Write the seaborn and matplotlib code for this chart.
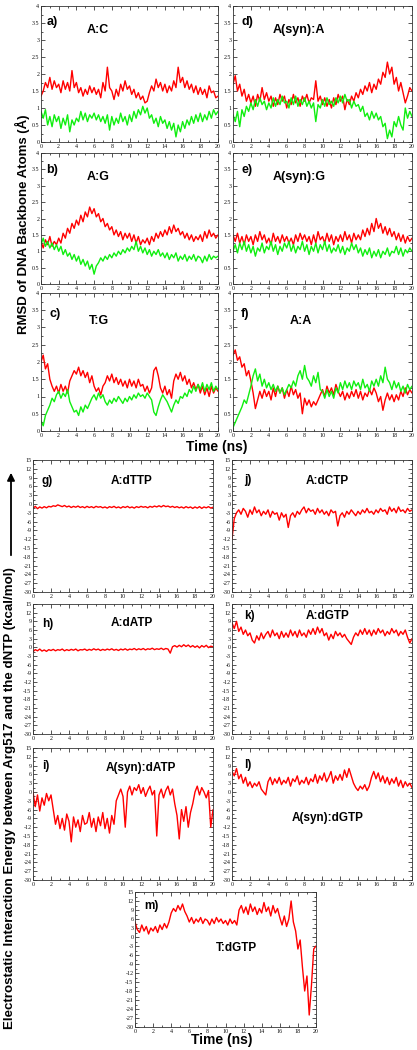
import numpy as np
import pandas as pd
import seaborn as sns
import matplotlib
matplotlib.use('Agg')
from matplotlib import pyplot as plt
from matplotlib.ticker import MultipleLocator, FormatStrFormatter

# time axis of every trace (ns), one sample every 0.25 ns
time = np.arange(81) * 0.25

# ---- RMSD of DNA backbone atoms (A), red / green traces ----
ac_red = [1.35, 1.5, 1.75, 1.6, 1.9, 1.55, 1.8, 1.6,
          1.7, 1.45, 1.8, 1.55, 1.75, 1.5, 2.1, 1.6,
          1.75, 1.45, 1.6, 1.35, 1.55, 1.4, 1.65, 1.45,
          1.6, 1.4, 1.55, 1.3, 1.75, 1.5, 2.2, 1.6,
          1.5, 1.25, 1.55, 1.35, 1.7, 1.5, 1.8, 1.55,
          1.65, 1.4, 1.55, 1.3, 1.45, 1.25, 1.35, 1.15,
          1.2, 1.45, 1.65, 1.5, 1.85, 1.6, 1.75, 1.5,
          1.7, 1.45, 1.65, 1.5, 1.8, 1.6, 2.2, 1.75,
          1.9, 1.6, 1.8, 1.55, 1.7, 1.45, 1.65, 1.4,
          1.6, 1.4, 1.55, 1.3, 1.65, 1.45, 1.5, 1.3, 1.35]
ac_green = [0.9, 0.7, 0.95, 0.5, 0.75, 0.45, 0.8, 0.6,
            0.75, 0.4, 0.7, 0.5, 0.8, 0.3, 0.65, 0.5,
            0.7, 0.6, 0.9, 0.65, 0.85, 0.6, 0.8, 0.7,
            0.85, 0.65, 0.8, 0.6, 0.75, 0.55, 0.8, 0.35,
            0.75, 0.5, 0.7, 0.55, 0.85, 0.6, 0.75, 0.5,
            0.8, 0.6, 0.9, 0.7, 0.95, 0.8, 1.05, 0.85,
            1.0, 0.7, 0.8, 0.55, 0.7, 0.45, 0.75, 0.55,
            0.65, 0.4, 0.6, 0.35, 0.55, 0.15, 0.5, 0.3,
            0.6, 0.4, 0.65, 0.5, 0.75, 0.55, 0.8, 0.6,
            0.85, 0.6, 0.8, 0.65, 0.9, 0.7, 0.95, 0.8, 0.9]

ag_red = [1.3, 1.1, 1.35, 1.2, 1.45, 1.15, 1.3, 1.2,
          1.4, 1.25, 1.55, 1.4, 1.7, 1.55, 1.85, 1.7,
          1.95, 1.8, 2.1, 1.9, 2.2, 2.05, 2.35, 2.15,
          2.3, 2.05, 2.15, 1.9, 2.0, 1.75, 1.85, 1.65,
          1.75, 1.5, 1.65, 1.45, 1.6, 1.35, 1.55, 1.4,
          1.55, 1.3, 1.5, 1.25, 1.45, 1.2, 1.35, 1.25,
          1.4, 1.2, 1.45, 1.3, 1.55, 1.4, 1.6, 1.45,
          1.65, 1.5, 1.75, 1.55, 1.8, 1.6, 1.7, 1.5,
          1.6, 1.4, 1.55, 1.35, 1.5, 1.3, 1.45, 1.35,
          1.5, 1.3, 1.6, 1.4, 1.65, 1.45, 1.55, 1.4, 1.5]
ag_green = [1.2, 1.4, 1.15, 1.3, 1.1, 1.25, 1.05, 1.2,
            1.0, 1.15, 0.9, 1.05, 0.85, 0.95, 0.75, 0.9,
            0.7, 0.85, 0.6, 0.75, 0.55, 0.7, 0.45, 0.6,
            0.3, 0.55, 0.65, 0.8, 0.7, 0.85, 0.75, 0.9,
            0.8, 0.95, 0.85, 1.0, 0.9, 1.05, 0.95, 1.1,
            1.0, 1.15, 1.05, 1.3, 1.0, 1.15, 0.95, 1.1,
            0.9, 1.05, 0.85, 1.0, 0.9, 1.05, 0.85, 0.95,
            0.8, 0.95, 0.75, 0.9, 0.8, 0.95, 0.7, 0.85,
            0.75, 0.9, 0.7, 0.85, 0.75, 0.9, 0.7, 0.85,
            0.8, 0.65, 0.85, 0.7, 0.9, 0.75, 0.85, 0.8, 0.85]

tg_red = [2.0, 2.2, 1.8, 1.95, 1.5, 1.3, 1.15, 1.3,
          1.1, 1.35, 1.15, 1.3, 1.1, 1.45, 1.6, 1.75,
          1.65, 1.85, 1.6, 1.75, 1.55, 1.7, 1.4, 1.6,
          1.3, 1.15, 1.25, 1.05, 1.3, 1.4, 1.6, 1.45,
          1.65, 1.4, 1.55, 1.35, 1.5, 1.3, 1.45, 1.25,
          1.5, 1.3, 1.45, 1.25, 1.5, 1.3, 1.35, 1.15,
          1.3, 1.1, 1.25, 1.75, 1.85, 1.6, 1.25, 1.1,
          1.3, 1.05, 1.2, 0.95, 1.45, 1.65, 1.5, 1.7,
          1.45, 1.6, 1.35, 1.5, 1.25, 1.4, 1.2, 1.35,
          1.1, 1.3, 1.05, 1.25, 1.0, 1.3, 1.1, 1.25, 1.15]
tg_green = [0.3, 0.15, 0.45, 0.6, 0.75, 0.95, 0.85, 1.05,
            1.15, 0.95, 1.1, 1.0, 1.2, 0.85, 0.7, 0.55,
            0.6, 0.45, 0.7, 0.55, 0.75, 0.65, 0.8, 0.95,
            1.05, 0.9, 1.1, 0.95, 1.05, 0.85, 0.75, 0.9,
            0.8, 0.95, 0.85, 1.0, 0.9, 0.8, 0.95, 0.85,
            1.0, 0.9, 1.05, 0.95, 1.1, 1.0, 1.05, 0.95,
            1.1, 1.0, 0.9, 0.55, 0.45, 0.7, 0.9, 1.05,
            0.95, 0.85, 0.7, 0.55, 0.75, 0.9, 0.8, 1.0,
            0.95, 1.1, 1.0, 1.2, 1.1, 1.3, 1.15, 1.35,
            1.2, 1.4, 1.15, 1.35, 1.2, 1.4, 1.15, 1.3, 1.2]

syna_red = [1.7, 1.95, 1.5, 1.7, 1.35, 1.55, 1.2, 1.4,
            1.15, 1.35, 1.05, 1.4, 1.2, 1.6, 1.25, 1.45,
            1.2, 1.35, 1.05, 1.3, 1.1, 1.4, 1.2, 1.35,
            1.0, 1.25, 1.1, 1.4, 1.15, 1.3, 1.05, 1.35,
            1.2, 1.4, 1.15, 1.3, 1.25, 1.8, 1.2, 1.35,
            1.1, 1.3, 1.05, 1.25, 1.0, 1.3, 1.1, 1.4,
            1.2, 1.35, 0.95, 1.25, 1.1, 1.35, 1.2, 1.45,
            1.3, 1.55, 1.4, 1.65, 1.5, 1.75, 1.45, 1.7,
            1.55, 1.85, 1.7, 2.05, 1.9, 2.35, 2.0, 2.2,
            1.7, 1.9, 1.5, 1.75, 1.45, 1.15, 1.35, 1.6, 1.5]
syna_green = [0.8, 0.6, 0.9, 0.45, 0.95, 0.75, 1.05, 0.9,
              1.15, 0.95, 1.25, 1.05, 1.3, 1.1, 1.2, 0.95,
              1.15, 1.0, 1.3, 1.05, 1.25, 1.1, 1.35, 1.15,
              1.2, 1.0, 1.3, 1.1, 1.35, 1.05, 1.25, 1.1,
              1.3, 1.05, 1.2, 1.0, 1.15, 0.6, 1.1, 1.0,
              1.25, 1.05, 1.3, 1.1, 1.2, 1.05, 1.3, 1.15,
              1.35, 1.15, 1.4, 1.2, 1.25, 1.0, 1.2, 1.05,
              1.1, 0.9, 1.05, 0.75, 0.85, 0.65, 0.9, 0.7,
              0.85, 0.65, 0.75, 0.45, 0.55, 0.1, 0.35, 0.15,
              0.6, 0.45, 0.75, 0.5, 0.35, 1.0, 0.7, 0.9, 0.75]

syng_red = [1.5, 1.3, 1.55, 1.25, 1.45, 1.2, 1.5, 1.3,
            1.45, 1.2, 1.5, 1.3, 1.6, 1.35, 1.5, 1.25,
            1.4, 1.2, 1.55, 1.3, 1.45, 1.25, 1.5, 1.3,
            1.45, 1.25, 1.4, 1.2, 1.5, 1.3, 1.55, 1.35,
            1.5, 1.3, 1.45, 1.2, 1.5, 1.25, 1.6, 1.35,
            1.45, 1.25, 1.55, 1.3, 1.5, 1.2, 1.45, 1.3,
            1.5, 1.3, 1.6, 1.35, 1.5, 1.25, 1.55, 1.35,
            1.5, 1.35, 1.65, 1.45, 1.7, 1.5, 1.85, 1.6,
            2.0, 1.7, 1.85, 1.55, 1.75, 1.5, 1.7, 1.45,
            1.6, 1.35, 1.55, 1.3, 1.5, 1.25, 1.45, 1.3, 1.4]
syng_green = [1.0, 1.2, 0.95, 1.25, 1.05, 1.3, 1.0, 1.2,
              0.95, 1.15, 0.85, 1.1, 1.0, 1.25, 0.95, 1.15,
              1.05, 1.3, 1.0, 1.2, 0.9, 1.15, 1.0, 1.25,
              1.1, 1.3, 1.0, 1.2, 0.95, 1.15, 1.05, 1.3,
              1.0, 1.2, 0.9, 1.15, 1.0, 1.25, 0.95, 1.2,
              1.05, 1.3, 1.0, 1.2, 0.95, 1.1, 1.0, 1.2,
              0.95, 1.15, 0.9, 1.1, 1.0, 1.25, 1.05, 1.2,
              0.95, 1.1, 0.85, 1.05, 0.9, 1.1, 0.8, 1.0,
              0.85, 1.05, 0.8, 1.0, 0.9, 1.1, 0.85, 1.0,
              0.95, 1.15, 0.9, 1.1, 0.85, 1.05, 0.95, 1.1, 1.0]

aa_red = [2.2, 2.35, 2.05, 2.15, 1.85, 1.95, 1.6, 1.75,
          1.45, 1.1, 0.65, 0.9, 1.15, 0.95, 1.2, 1.0,
          1.15, 0.9, 1.25, 1.0, 1.3, 1.1, 1.25, 0.95,
          1.2, 1.0, 1.3, 1.05, 1.2, 0.95, 1.1, 0.5,
          0.95, 0.75, 0.9, 0.7, 0.85, 0.75, 0.9, 1.05,
          1.2, 1.0, 1.3, 1.1, 1.25, 1.05, 1.35, 1.15,
          1.0, 1.15, 0.9, 1.1, 0.95, 1.15, 1.0, 1.2,
          0.95, 1.15, 0.9, 1.1, 1.0, 1.2, 1.05, 1.25,
          1.1, 0.85, 1.0, 0.6, 0.9, 1.1, 0.9, 1.05,
          0.85, 1.05, 0.9, 1.15, 1.0, 1.25, 1.05, 1.2, 1.1]
aa_green = [0.1, 0.25, 0.4, 0.55, 0.7, 0.9, 0.8, 1.05,
            1.3, 1.6, 1.8, 1.45, 1.65, 1.3, 1.5, 1.25,
            1.4, 1.2, 1.35, 1.15, 1.3, 1.1, 1.25, 1.05,
            1.2, 1.35, 1.25, 1.45, 1.3, 1.6, 1.75, 1.5,
            1.9, 1.55, 1.45, 1.3, 1.6, 1.4, 1.7, 1.2,
            1.15, 0.95, 1.2, 1.0, 1.15, 0.95, 1.25, 1.1,
            1.4, 1.2, 1.45, 1.25, 1.4, 1.2, 1.45, 1.3,
            1.4, 1.2, 1.5, 1.25, 1.35, 1.15, 1.45, 1.3,
            1.5, 1.3, 1.6, 1.4, 1.85, 1.5, 1.4, 1.2,
            1.45, 1.25, 1.4, 1.15, 1.3, 1.1, 1.35, 1.2, 1.3]

# ---- Arg517 - dNTP electrostatic interaction energy (kcal/mol) ----
dttp = [-1.5, -0.8, -1.6, -1.0, -1.4, -0.9, -1.3, -0.8,
        -1.0, -0.6, -0.8, -0.3, -0.6, -0.9, -0.5, -1.0,
        -0.7, -1.2, -0.8, -1.1, -0.7, -1.2, -0.9, -1.3,
        -0.8, -1.2, -0.9, -1.3, -0.8, -1.1, -0.9, -1.3,
        -1.0, -1.4, -0.9, -1.2, -0.8, -1.3, -1.0, -1.4,
        -0.9, -1.2, -0.8, -1.3, -1.0, -1.4, -0.9, -1.2,
        -0.8, -1.1, -0.9, -1.3, -0.8, -1.1, -0.7, -1.0,
        -0.6, -1.0, -0.5, -0.9, -0.7, -1.1, -0.8, -1.2,
        -0.9, -1.3, -1.0, -1.4, -0.9, -1.3, -1.0, -1.5,
        -1.0, -1.4, -0.9, -1.5, -1.0, -1.3, -0.9, -1.4, -1.1]
datp = [-1.5, -0.8, -1.2, -0.6, -1.3, -0.9, -1.4, -0.8,
        -1.1, -0.7, -1.2, -0.8, -1.0, -0.6, -1.2, -0.8,
        -1.1, -0.7, -1.0, -0.6, -1.2, -0.8, -0.9, -0.6,
        -1.1, -0.7, -1.0, -0.5, -0.9, -0.6, -1.1, -0.7,
        -1.0, -0.6, -0.9, -0.5, -1.0, -0.7, -1.1, -0.6,
        -0.9, -0.5, -1.0, -0.6, -0.8, -0.4, -0.9, -0.5,
        -0.8, -0.4, -0.9, -0.5, -0.7, -0.3, -0.8, -0.5,
        -0.7, -0.3, -0.8, -0.4, -0.6, -2.0, 0.2, 0.6,
        0.1, 0.7, 0.2, 0.9, 0.3, 0.8, 0.1, 0.6,
        0.0, 0.5, -0.2, 0.6, 0.1, 0.7, -0.1, 0.4, 0.2]
syn_datp = [0.0, -5.0, -1.0, -6.5, -2.0, -4.5, -0.5, -3.0,
            -1.0, -6.0, -11.0, -8.0, -12.5, -9.0, -13.0, -7.5,
            -10.0, -17.0, -8.5, -12.0, -9.5, -13.5, -8.0, -11.0,
            -10.5, -7.0, -12.0, -9.0, -13.5, -8.5, -11.5, -7.0,
            -12.5, -9.0, -14.0, -8.0, -11.0, -3.0, -1.0, 1.0,
            -1.5, -12.0, 0.0, 2.0, -1.0, 1.5, 0.5, 2.5,
            -0.5, 1.5, -1.5, 0.5, 2.0, -1.0, 0.5, -15.0,
            -1.0, 1.0, -2.0, 0.5, 2.0, -1.0, 1.0, -4.0,
            -8.0, -16.0, -6.0, -10.0, -5.0, -12.0, -7.0, -4.0,
            0.0, 2.0, -1.0, 1.5, 0.0, -2.0, 0.5, -12.0, -6.0]
dctp = [-12.0, -5.0, -3.0, -2.0, -3.5, -1.5, -2.5, -4.5,
        -2.0, -3.5, -1.0, -3.0, -2.0, -4.0, -2.5, -3.5,
        -2.0, -4.5, -2.5, -3.5, -3.0, -5.5, -3.0, -4.5,
        -3.5, -8.0, -4.0, -3.0, -4.5, -2.5, -3.5, -2.0,
        -1.0, -3.0, -1.5, -2.5, -2.0, -3.5, -1.5, -3.0,
        -2.0, -3.5, -2.5, -4.0, -2.0, -3.0, -2.5, -7.5,
        -4.0, -3.0, -4.5, -2.5, -3.5, -2.0, -3.0, -4.0,
        -2.5, -3.5, -2.0, -3.0, -1.5, -3.0, -2.5, -3.5,
        -2.0, -3.0, -1.5, -2.5, -2.0, -3.5, -1.0, -2.5,
        -1.5, -3.0, -1.0, -2.5, -2.0, -3.0, -1.5, -2.5, -2.0]
dgtp = [8.5, 6.5, 9.0, 5.5, 7.0, 4.5, 6.0, 4.0,
        5.0, 2.5, 1.5, 4.0, 2.5, 5.0, 3.0, 4.5,
        5.5, 3.5, 6.0, 4.0, 5.0, 3.0, 5.5, 3.5,
        5.0, 3.5, 6.0, 4.0, 5.5, 3.5, 6.0, 4.0,
        5.0, 3.5, 6.0, 4.5, 6.5, 4.5, 7.0, 5.0,
        6.5, 4.0, 5.0, 2.5, 4.5, 3.0, 5.5, 4.0,
        5.0, 3.5, 4.5, 3.0, 2.0, 1.0, 3.5, 5.0,
        4.0, 6.0, 4.5, 6.5, 4.5, 6.0, 4.0, 6.0,
        4.5, 6.5, 5.0, 6.0, 4.0, 5.5, 4.5, 6.5,
        5.0, 6.0, 4.0, 5.5, 4.5, 6.0, 3.5, 1.5, 3.0]
syn_dgtp = [7.0, 5.5, 8.0, 4.5, 6.0, 3.0, 5.0, 2.0,
            3.5, 1.5, 3.0, 2.0, 3.5, 1.0, 0.0, -1.0,
            3.5, 5.0, 2.5, 4.5, 3.0, 5.0, 2.5, 4.0,
            3.0, 5.0, 2.0, 4.5, 3.5, 5.5, 2.5, 4.0,
            3.0, 5.0, 2.5, 4.5, 3.5, 6.0, 3.0, 5.5,
            4.0, 6.5, 3.5, 5.0, 7.0, 3.0, 5.5, 4.0,
            6.0, 4.0, 7.5, 5.0, 8.0, 5.5, 3.0, 1.5,
            0.5, 2.0, 1.0, 2.5, 0.5, 2.0, 5.0, 7.0,
            4.5, 6.5, 3.5, 5.5, 3.0, 5.0, 2.5, 4.5,
            3.0, 5.0, 2.0, 4.0, 1.5, 3.5, 2.0, 3.0, 1.5]
t_dgtp = [5.0, 2.5, 1.5, 4.0, 2.0, 3.5, 1.0, 3.0,
          2.0, 3.5, 1.5, 4.0, 2.5, 4.5, 3.0, 5.0,
          8.0, 9.5, 8.5, 10.5, 9.0, 11.0, 8.5, 7.0,
          5.0, 6.5, 4.5, 6.0, 5.0, 6.5, 4.5, 6.0,
          5.5, 4.0, 6.0, 4.5, 6.5, 5.0, 6.0, 4.5,
          5.5, 4.0, 6.0, 4.5, 5.5, 4.0, 9.0, 10.5,
          8.0, 10.0, 7.5, 11.0, 8.5, 10.0, 7.5, 9.5,
          8.0, 11.5, 8.5, 10.0, 7.0, 10.5, 8.0, 9.5,
          6.5, 4.0, 7.0, 3.5, 6.0, 12.0, 5.0, 2.0,
          -4.0, -1.0, -10.0, -18.0, -13.0, -26.0, -16.0, -4.0, -3.0]

RED = '#ff0000'
GREEN = '#10ee10'

sns.set_style('ticks')
plt.rcParams['font.family'] = ['Liberation Sans', 'DejaVu Sans']
plt.rcParams['text.color'] = 'black'

W, H = 417, 1050
fig = plt.figure(figsize=(W / 100, H / 100), dpi=100)


def panel(x0, y0, x1, y1):
    return fig.add_axes([x0 / W, 1 - y1 / H, (x1 - x0) / W, (y1 - y0) / H])


def dress(ax, ylim, ymaj, ymin, yfmt):
    ax.set_xlim(0, 20)
    ax.set_ylim(*ylim)
    ax.xaxis.set_major_locator(MultipleLocator(2))
    ax.xaxis.set_minor_locator(MultipleLocator(1))
    ax.yaxis.set_major_locator(MultipleLocator(ymaj))
    ax.yaxis.set_minor_locator(MultipleLocator(ymin))
    ax.yaxis.set_major_formatter(FormatStrFormatter(yfmt))
    ax.tick_params(which='both', direction='in', top=True, right=True,
                   labelsize=4.3, width=0.5, pad=1.2, colors='#111111',
                   labelfontfamily='Liberation Serif')
    ax.tick_params(which='major', length=3)
    ax.tick_params(which='minor', length=1.6)
    for s in ax.spines.values():
        s.set_linewidth(0.6)
        s.set_color('#333333')
    ax.set_xlabel('')
    ax.set_ylabel('')


def label(ax, tag, title, tpos, tgpos, size=9):
    ax.text(*tgpos, tag, transform=ax.transAxes, fontsize=size,
            weight='bold', ha='left', va='center')
    ax.text(*tpos, title, transform=ax.transAxes, fontsize=size,
            weight='bold', ha='center', va='center')


# ---- top block: RMSD ----
rmsd = [
    ((41, 6, 218, 142), 'a)', 'A:C', ac_red, ac_green, (0.32, 0.82), (0.03, 0.88)),
    ((41, 153, 218, 284), 'b)', 'A:G', ag_red, ag_green, (0.32, 0.82), (0.03, 0.87)),
    ((41, 293, 218, 431), 'c)', 'T:G', tg_red, tg_green, (0.33, 0.80), (0.05, 0.85)),
    ((233, 6, 412, 142), 'd)', 'A(syn):A', syna_red, syna_green, (0.37, 0.82), (0.045, 0.88)),
    ((233, 153, 412, 284), 'e)', 'A(syn):G', syng_red, syng_green, (0.37, 0.82), (0.045, 0.87)),
    ((233, 293, 412, 431), 'f)', 'A:A', aa_red, aa_green, (0.38, 0.80), (0.045, 0.85)),
]
for box, tag, title, red, green, tpos, tgpos in rmsd:
    ax = panel(*box)
    df = pd.DataFrame({'time': time, 'red': red, 'green': green})
    sns.lineplot(data=df, x='time', y='red', color=RED, lw=1.0, ax=ax)
    sns.lineplot(data=df, x='time', y='green', color=GREEN, lw=1.0, ax=ax)
    dress(ax, (0, 4), 0.5, 0.25, '%g')
    label(ax, tag, title, tpos, tgpos)

# ---- bottom block: interaction energy ----
energy = [
    ((33, 460, 213, 592), 'g)', 'A:dTTP', dttp, (0.55, 0.84), (0.05, 0.84)),
    ((33, 604, 213, 734), 'h)', 'A:dATP', datp, (0.55, 0.85), (0.05, 0.85)),
    ((33, 748, 213, 880), 'i)', 'A(syn):dATP', syn_datp, (0.60, 0.85), (0.05, 0.86)),
    ((232, 460, 412, 592), 'j)', 'A:dCTP', dctp, (0.53, 0.84), (0.07, 0.85)),
    ((232, 604, 412, 734), 'k)', 'A:dGTP', dgtp, (0.53, 0.91), (0.07, 0.91)),
    ((232, 748, 412, 880), 'l)', 'A(syn):dGTP', syn_dgtp, (0.53, 0.47), (0.07, 0.87)),
    ((135, 892, 316, 1027), 'm)', 'T:dGTP', t_dgtp, (0.56, 0.585), (0.05, 0.90)),
]
axes_e = []
for box, tag, title, vals, tpos, tgpos in energy:
    ax = panel(*box)
    df = pd.DataFrame({'time': time, 'energy': vals})
    sns.lineplot(data=df, x='time', y='energy', color=RED, lw=1.0, ax=ax)
    dress(ax, (-30, 15), 3, 1.5, '%d')
    label(ax, tag, title, tpos, tgpos, size=8.5)
    axes_e.append(ax)

# ---- shared labels ----
fig.text(217 / W, 1 - 447 / H, 'Time (ns)', ha='center', va='center',
         fontsize=10, weight='bold')
fig.text(222 / W, 1 - 1040 / H, 'Time (ns)', ha='center', va='center',
         fontsize=10, weight='bold')
fig.text(22 / W, 1 - 224 / H, 'RMSD of DNA Backbone Atoms (\u00c5)',
         rotation=90, ha='center', va='center', fontsize=9.5, weight='bold')
fig.text(10 / W, 1 - 798 / H,
         'Electrostatic Interaction Energy between Arg517 and the dNTP (kcal/mol)',
         rotation=90, ha='center', va='center', fontsize=9.6, weight='bold')
axes_e[0].annotate('', xy=(11 / W, 1 - 470 / H), xytext=(11 / W, 1 - 558 / H),
                   xycoords='figure fraction', textcoords='figure fraction',
                   annotation_clip=False,
                   arrowprops=dict(arrowstyle='-|>', lw=1.3, color='black',
                                   mutation_scale=11))

fig.savefig('out.png', dpi=100)
